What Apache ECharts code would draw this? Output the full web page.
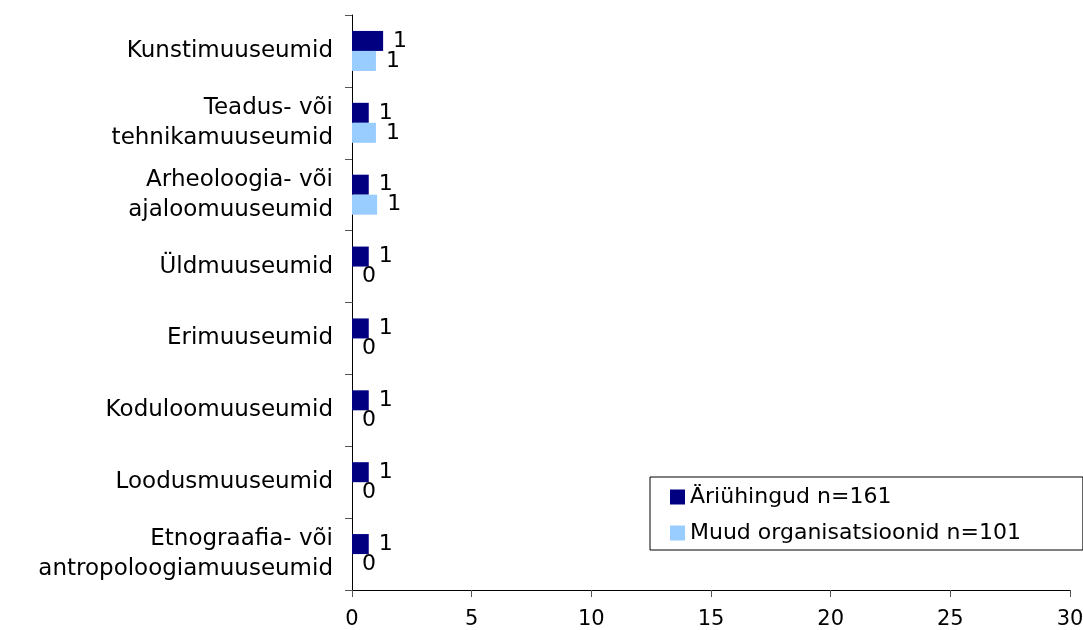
<!DOCTYPE html>
<html>
<head>
<meta charset="utf-8">
<script src="https://cdn.jsdelivr.net/npm/echarts@6/dist/echarts.min.js"></script>
<style>
html,body{margin:0;padding:0;background:#fff;}
#chart{width:1083px;height:630px;}
</style>
</head>
<body>
<div id="chart"></div>
<script>
const categories = [
  "Kunstimuuseumid",
  "Teadus- või\ntehnikamuuseumid",
  "Arheoloogia- või\najaloomuuseumid",
  "Üldmuuseumid",
  "Erimuuseumid",
  "Koduloomuuseumid",
  "Loodusmuuseumid",
  "Etnograafia- või\nantropoloogiamuuseumid"
];
const seriesNames = ["Äriühingud n=161", "Muud organisatsioonid n=101"];
const ariyhingud = [1.3, 0.7, 0.7, 0.7, 0.7, 0.7, 0.7, 0.7];
const muud = [1.0, 1.0, 1.05, 0, 0, 0, 0, 0];
const xTicks = { min: 0, max: 30, interval: 5 };

const FONT = "DejaVu Sans";
const chart = echarts.init(document.getElementById('chart'), null, {renderer: 'canvas'});
const labelOpt = {
  show: true,
  position: 'right',
  distance: 10,
  color: '#000',
  fontFamily: FONT,
  fontSize: 22,
  formatter: p => String(Math.round(p.value))
};
chart.setOption({
  animation: false,
  backgroundColor: '#fff',
  textStyle: { fontFamily: FONT, color: '#000' },
  grid: { left: 352, right: 13, top: 15, bottom: 40, containLabel: false, outerBoundsMode: 'none' },
  legend: {
    orient: 'vertical',
    left: 650,
    top: 477,
    padding: [8, 62, 5, 20],
    borderColor: '#000',
    borderWidth: 1,
    itemWidth: 15,
    itemHeight: 15,
    itemGap: 12,
    icon: 'rect',
    textStyle: { fontFamily: FONT, fontSize: 22, color: '#000', lineHeight: 24 },
    data: seriesNames
  },
  xAxis: {
    type: 'value',
    min: xTicks.min, max: xTicks.max, interval: xTicks.interval,
    axisLine: { show: true, lineStyle: { color: '#000', width: 1 } },
    axisTick: { show: true, inside: false, length: 7, lineStyle: { color: '#555' } },
    splitLine: { show: false },
    axisLabel: { margin: 19, fontFamily: FONT, fontSize: 21, color: '#000' }
  },
  yAxis: {
    type: 'category',
    inverse: true,
    data: categories,
    axisLine: { show: true, lineStyle: { color: '#000', width: 1 } },
    axisTick: { show: true, inside: false, length: 7, lineStyle: { color: '#555' } },
    axisLabel: { margin: 19, fontFamily: FONT, fontSize: 23, color: '#000', lineHeight: 30, align: 'right' }
  },
  series: [
    { name: seriesNames[0], type: 'bar', data: ariyhingud, barWidth: 20, barGap: '0%',
      itemStyle: { color: '#000080' }, label: labelOpt },
    { name: seriesNames[1], type: 'bar', data: muud, barWidth: 20, barGap: '0%',
      itemStyle: { color: '#99CCFF' }, label: labelOpt }
  ]
});
</script>
</body>
</html>
